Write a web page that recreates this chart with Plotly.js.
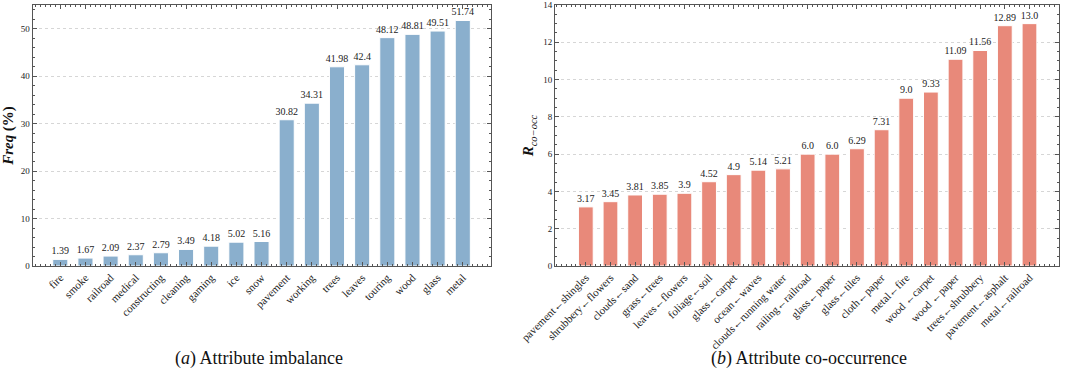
<!DOCTYPE html>
<html>
<head>
<meta charset="utf-8">
<script src="https://cdn.plot.ly/plotly-3.0.1.min.js"></script>
<style>html,body{margin:0;padding:0;background:#fff;}#chart{width:1080px;height:370px;}</style>
</head>
<body>
<div id="chart"></div>
<script>
var attrNames = ["fire","smoke","railroad","medical","constructing","cleaning","gaming","ice","snow","pavement","working","trees","leaves","touring","wood","glass","metal"];
var attrFreq = [1.39,1.67,2.09,2.37,2.79,3.49,4.18,5.02,5.16,30.82,34.31,41.98,42.4,48.12,48.81,49.51,51.74];
var attrFreqLabels = ["1.39","1.67","2.09","2.37","2.79","3.49","4.18","5.02","5.16","30.82","34.31","41.98","42.4","48.12","48.81","49.51","51.74"];

var pairNames = ["pavement←shingles","shrubbery←flowers","clouds←sand","grass←trees","leaves←flowers","foliage←soil","glass←carpet","ocean←waves","clouds←running water","railing←railroad","glass←paper","glass←tiles","cloth←paper","metal←fire","wood ←carpet","wood ←paper","trees←shrubbery","pavement←asphalt","metal←railroad"];
var pairRatio = [3.17,3.45,3.81,3.85,3.9,4.52,4.9,5.14,5.21,6.0,6.0,6.29,7.31,9.0,9.33,11.09,11.56,12.89,13.0];
var pairRatioLabels = ["3.17","3.45","3.81","3.85","3.9","4.52","4.9","5.14","5.21","6.0","6.0","6.29","7.31","9.0","9.33","11.09","11.56","12.89","13.0"];

var captions = ["(<i>a</i>) Attribute imbalance", "(<i>b</i>) Attribute co-occurrence"];

var serif = "Liberation Serif, Times New Roman, serif";
var axisColor = "#555";

var idxA = attrNames.map(function(_, i){ return i; });
var idxB = pairNames.map(function(_, i){ return i; });

var labelFont = {family:serif, size:10, color:"#222222"};

var traces = [
  {type:"bar", x: idxA, y: attrFreq, text: attrFreqLabels, textposition:"outside", cliponaxis:false,
   textfont:labelFont, outsidetextfont:labelFont, constraintext:"none", width:0.6,
   marker:{color:"#8aafcd", line:{color:"#ffffff", width:1}}, xaxis:"x", yaxis:"y", hoverinfo:"x+y"},
  {type:"bar", x: idxB, y: pairRatio, text: pairRatioLabels, textposition:"outside", cliponaxis:false,
   textfont:labelFont, outsidetextfont:labelFont, constraintext:"none", width:0.6,
   marker:{color:"#e8897a", line:{color:"#ffffff", width:1}}, xaxis:"x2", yaxis:"y2", hoverinfo:"x+y"}
];

function xAxis(domain, n, labels, range, anchor){
  return {domain:domain, anchor:anchor, range:range, tickmode:"array", tickvals:n, ticktext:labels,
    tickangle:-45, tickfont:{family:serif, size:11, color:"#222"},
    ticks:"inside", ticklen:4, tickcolor:axisColor, showline:true, linecolor:axisColor, linewidth:1,
    mirror:"allticks", showgrid:false, zeroline:false,
    minor:{ticks:"inside", ticklen:2, dtick:0.2, tick0:0, tickcolor:axisColor, showgrid:false}};
}
function yAxis(domainY, range, dtick, minorDtick, titleHtml, anchor, standoff){
  return {domain:domainY, anchor:anchor, range:range, dtick:dtick, tick0:0,
    tickfont:{family:serif, size:9, color:"#222"},
    ticks:"inside", ticklen:4, tickcolor:axisColor, showline:true, linecolor:axisColor, linewidth:1,
    mirror:"allticks", showgrid:true, gridcolor:"#d6d6d6", griddash:"dot", gridwidth:1, zeroline:false,
    minor:{ticks:"inside", ticklen:2, dtick:minorDtick, tick0:0, tickcolor:axisColor, showgrid:false},
    title:{text:titleHtml, font:{family:serif, size:15, color:"#111"}, standoff:standoff}};
}

var layout = {
  width:1080, height:370, paper_bgcolor:"#fff", plot_bgcolor:"#fff",
  margin:{l:0, r:0, t:5, b:104}, showlegend:false, bargap:0,
  xaxis: xAxis([0.0302, 0.4546], idxA, attrNames, [-1.1, 17.12], "y"),
  yaxis: yAxis([0,1], [0,55], 10, 2, "<b><i>Freq</i></b> <b>(%)</b>", "x", 4),
  xaxis2: xAxis([0.5139, 0.9806], idxB, pairNames, [-1.25, 19.2], "y2"),
  yaxis2: yAxis([0,1], [0,14], 2, 0.5, "<b><i>R</i></b><sub><i>co−occ</i></sub>", "x2", 5),
  annotations:[
    {text:captions[0], xref:"paper", yref:"paper", x:0.24, y:-0.355, xanchor:"center", yanchor:"middle", showarrow:false,
     font:{family:serif, size:18, color:"#111"}},
    {text:captions[1], xref:"paper", yref:"paper", x:0.749, y:-0.355, xanchor:"center", yanchor:"middle", showarrow:false,
     font:{family:serif, size:18, color:"#111"}}
  ]
};

Plotly.newPlot("chart", traces, layout, {staticPlot:true, displayModeBar:false});
</script>
</body>
</html>
